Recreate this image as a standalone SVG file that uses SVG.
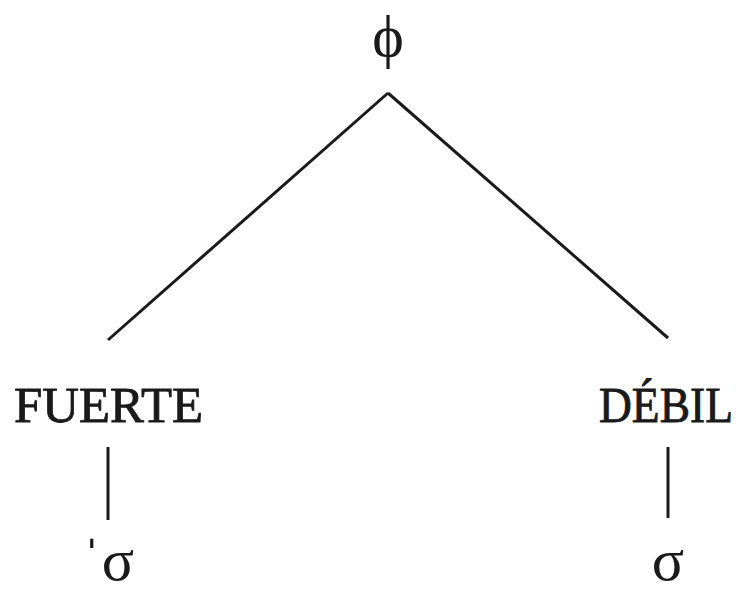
<svg xmlns="http://www.w3.org/2000/svg" width="746" height="592" viewBox="0 0 746 592">
<style>
.t{font-family:"Liberation Serif","DejaVu Serif",serif;fill:#1a1a1a}
.lbl{font-size:50px;stroke:#1a1a1a;stroke-width:0.8}
.sym{font-size:60px}
.e{stroke:#1a1a1a;stroke-width:3;fill:none}
</style>
<rect width="746" height="592" fill="#ffffff"/>
<g id="connectors">
<line class="e" x1="388" y1="93" x2="108" y2="340"/>
<line class="e" x1="388" y1="93" x2="668" y2="338"/>
<line class="e" x1="108" y1="447" x2="108" y2="520"/>
<line class="e" x1="668" y1="447" x2="668" y2="518"/>
</g>
<g id="phi"><text class="t sym" x="388" y="56" text-anchor="middle">ϕ</text></g>
<g id="fuerte"><text class="t lbl" x="14" y="422" textLength="189" lengthAdjust="spacingAndGlyphs">FUERTE</text></g>
<g id="debil"><text class="t lbl" x="599" y="422" textLength="134" lengthAdjust="spacingAndGlyphs">DÉBIL</text></g>
<g id="sigma1"><text class="t sym" x="108" y="580" text-anchor="middle">ˈσ</text></g>
<g id="sigma2"><text class="t sym" x="668" y="580" text-anchor="middle">σ</text></g>
</svg>
